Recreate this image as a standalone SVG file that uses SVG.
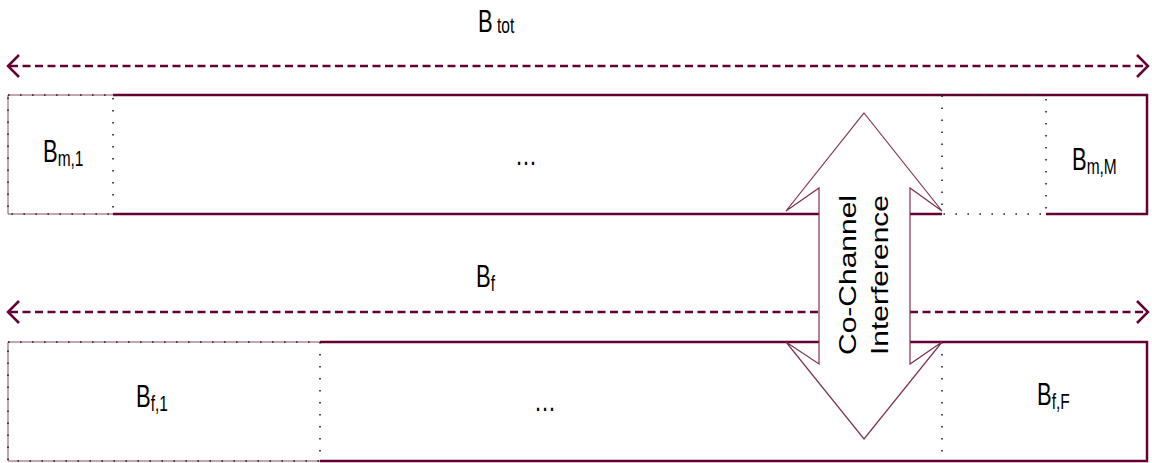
<svg xmlns="http://www.w3.org/2000/svg" width="1152" height="463" viewBox="0 0 1152 463">
<defs>
<style>
.thick{fill:none;stroke:#660033;stroke-width:2.5}
.thin{fill:none;stroke:#8a4a64;stroke-width:1}
.dot{fill:none;stroke:#222;stroke-width:1.6;stroke-dasharray:1.6 10.4}
.dash{fill:none;stroke:#660033;stroke-width:2.5;stroke-dasharray:8 4.5}
.head{fill:none;stroke:#660033;stroke-width:2.5}
.lbl{font-family:"Liberation Sans",Arial,sans-serif;font-size:22px;fill:#000}
.sub{font-size:15.5px}
.rot{font-family:"Liberation Sans",Arial,sans-serif;font-size:24px;fill:#000;text-anchor:middle}
</style>
</defs>
<rect width="1152" height="463" fill="#fff"/>
<g id="connectors">
<line class="dash" x1="10" y1="66" x2="1146" y2="66"/>
<polyline class="head" points="19,55 8,66 19,77"/>
<polyline class="head" points="1137,55 1148,66 1137,77"/>
<line class="dash" x1="10" y1="312" x2="1146" y2="312"/>
<polyline class="head" points="19,301 8,312 19,323"/>
<polyline class="head" points="1137,301 1148,312 1137,323"/>
</g>
<g id="top-band">
<polyline class="thin" points="113,95 8,95 8,214 113,214"/>
<polyline class="thick" points="113,95 1147,95 1147,214 1046,214"/>
<line class="thick" x1="113" y1="214" x2="942" y2="214"/>
<rect class="dot" x="8" y="95" width="105" height="119"/>
<rect class="dot" x="942" y="95" width="104" height="119"/>
</g>
<g id="bottom-band">
<polyline class="thin" points="320,342 8,342 8,461 320,461"/>
<polyline class="thick" points="320,342 1147,342 1147,461 320,461"/>
<rect class="dot" x="8" y="342" width="312" height="119"/>
<line class="dot" x1="942" y1="342" x2="942" y2="461"/>
</g>
<g id="label-btot" transform="translate(478,32) scale(1,1.4)"><text class="lbl" x="0" y="0">B<tspan class="sub" dy="1"> tot</tspan></text></g>
<g id="label-bf" transform="translate(476,287) scale(1,1.4)"><text class="lbl" x="0" y="0">B<tspan class="sub" dy="3">f</tspan></text></g>
<g id="node-bm1" transform="translate(43,162) scale(1,1.4)"><text class="lbl" x="0" y="0">B<tspan class="sub" dy="3">m,1</tspan></text></g>
<g id="node-dots-top" transform="translate(526,165) scale(1,1.4)"><text class="lbl" x="0" y="0" text-anchor="middle">…</text></g>
<g id="node-bmM" transform="translate(1072,170) scale(1,1.4)"><text class="lbl" x="0" y="0">B<tspan class="sub" dy="3">m,M</tspan></text></g>
<g id="node-bf1" transform="translate(136,407) scale(1,1.4)"><text class="lbl" x="0" y="0">B<tspan class="sub" dy="3">f,1</tspan></text></g>
<g id="node-dots-bottom" transform="translate(545,411) scale(1,1.4)"><text class="lbl" x="0" y="0" text-anchor="middle">…</text></g>
<g id="node-bfF" transform="translate(1037,405) scale(1,1.4)"><text class="lbl" x="0" y="0">B<tspan class="sub" dy="3">f,F</tspan></text></g>
<g id="interference-arrow">
<polygon points="864,113 942,211 910,188 910,364 942,342 864,439 786,342 819,364 819,188 786,211" fill="#fff" stroke="#80304f" stroke-width="1.2"/>
<g transform="translate(856,275) rotate(-90) scale(1.25,1)"><text class="rot" x="0" y="0">Co-Channel</text></g>
<g transform="translate(888,275) rotate(-90) scale(1.25,1)"><text class="rot" x="0" y="0">Interference</text></g>
</g>
</svg>
